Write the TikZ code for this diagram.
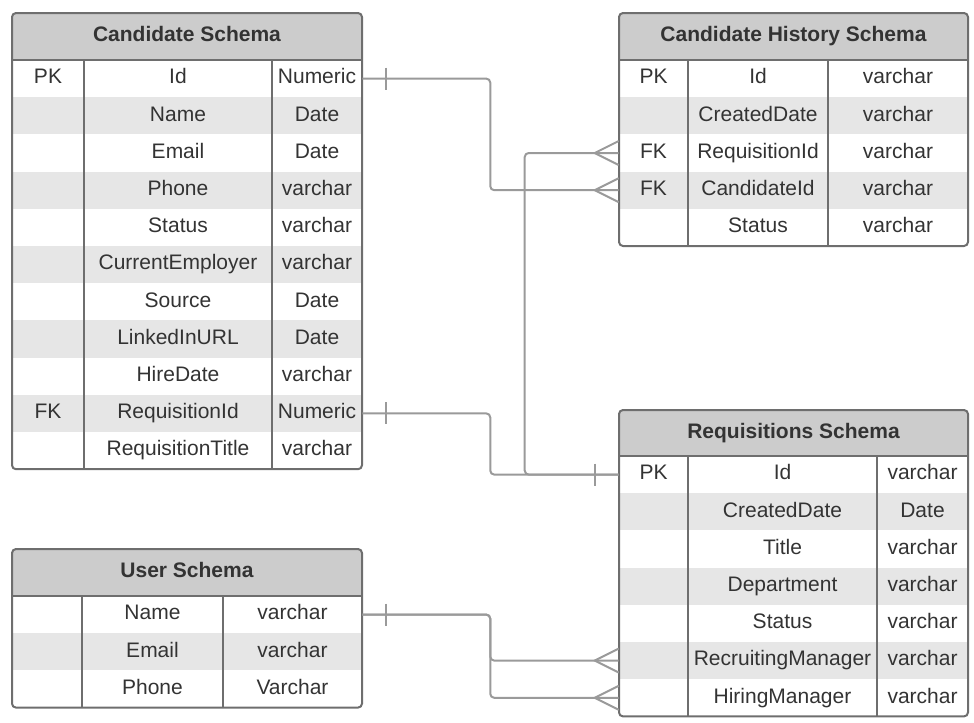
\documentclass[tikz,border=0pt]{standalone}
\usepackage{fontspec}
\setmainfont{Liberation Sans}
\definecolor{txt}{HTML}{333333}
\definecolor{hdr}{HTML}{CCCCCC}
\definecolor{stripe}{HTML}{E6E6E6}
\definecolor{tblline}{HTML}{6E6E6E}
\definecolor{relline}{HTML}{9A9A9A}

\begin{document}
\begin{tikzpicture}[x=0.75pt,y=-0.75pt,
  every node/.style={text=txt,font=\fontsize{15.75}{18}\selectfont},
  cell/.style={inner sep=0pt,minimum height=27.9pt,text height=11pt,text depth=3pt},
  band/.style={fill=stripe},
  head/.style={inner sep=0pt,fill=hdr,text height=11pt,text depth=3pt,font=\bfseries\fontsize{15.75}{18}\selectfont},
  ck/.style={cell,minimum width=54pt},ct/.style={cell,minimum width=67.5pt},cn/.style={cell,minimum width=141pt},
  hk/.style={cell,minimum width=51.75pt},hn/.style={cell,minimum width=105pt},ht/.style={cell,minimum width=105pt},
  rk/.style={cell,minimum width=51.75pt},rn/.style={cell,minimum width=141.75pt},rt/.style={cell,minimum width=68.25pt},
  uk/.style={cell,minimum width=52.5pt},un/.style={cell,minimum width=105.75pt},ut/.style={cell,minimum width=104.25pt},
  tbl/.style={draw=tblline,line width=1.5pt},
  rel/.style={draw=relline,line width=1.5pt}]
\useasboundingbox (0,0) rectangle (974,722);

\begin{scope}
\clip[rounded corners=3pt] (12,13) rectangle (362,469.2);
\node[head,minimum width=262.5pt,minimum height=35.25pt] (chead) at (187,36.5) {Candidate Schema};
\node[ck] (c1k) at (48,78.6) {PK}; \node[cn] (c1n) at (178,78.6) {Id}; \node[ct] (c1t) at (317,78.6) {Numeric};
\node[ck,band] (c2k) at (48,115.8) {}; \node[cn,band] (c2n) at (178,115.8) {Name}; \node[ct,band] (c2t) at (317,115.8) {Date};
\node[ck] (c3k) at (48,153) {}; \node[cn] (c3n) at (178,153) {Email}; \node[ct] (c3t) at (317,153) {Date};
\node[ck,band] (c4k) at (48,190.2) {}; \node[cn,band] (c4n) at (178,190.2) {Phone}; \node[ct,band] (c4t) at (317,190.2) {varchar};
\node[ck] (c5k) at (48,227.4) {}; \node[cn] (c5n) at (178,227.4) {Status}; \node[ct] (c5t) at (317,227.4) {varchar};
\node[ck,band] (c6k) at (48,264.6) {}; \node[cn,band] (c6n) at (178,264.6) {CurrentEmployer}; \node[ct,band] (c6t) at (317,264.6) {varchar};
\node[ck] (c7k) at (48,301.8) {}; \node[cn] (c7n) at (178,301.8) {Source}; \node[ct] (c7t) at (317,301.8) {Date};
\node[ck,band] (c8k) at (48,339) {}; \node[cn,band] (c8n) at (178,339) {LinkedInURL}; \node[ct,band] (c8t) at (317,339) {Date};
\node[ck] (c9k) at (48,376.2) {}; \node[cn] (c9n) at (178,376.2) {HireDate}; \node[ct] (c9t) at (317,376.2) {varchar};
\node[ck,band] (c10k) at (48,413.4) {FK}; \node[cn,band] (c10n) at (178,413.4) {RequisitionId}; \node[ct,band] (c10t) at (317,413.4) {Numeric};
\node[ck] (c11k) at (48,450.6) {}; \node[cn] (c11n) at (178,450.6) {RequisitionTitle}; \node[ct] (c11t) at (317,450.6) {varchar};
\end{scope}
\draw[tbl] (12,60) -- (362,60) (84,60) -- (84,469.2) (272,60) -- (272,469.2);
\draw[tbl,rounded corners=3pt] (12,13) rectangle (362,469.2);

\begin{scope}
\clip[rounded corners=3pt] (619,13) rectangle (968,246);
\node[head,minimum width=261.75pt,minimum height=35.25pt] (hhead) at (793.5,36.5) {Candidate History Schema};
\node[hk] (h1k) at (653.5,78.6) {PK}; \node[hn] (h1n) at (758,78.6) {Id}; \node[ht] (h1t) at (898,78.6) {varchar};
\node[hk,band] (h2k) at (653.5,115.8) {}; \node[hn,band] (h2n) at (758,115.8) {CreatedDate}; \node[ht,band] (h2t) at (898,115.8) {varchar};
\node[hk] (h3k) at (653.5,153) {FK}; \node[hn] (h3n) at (758,153) {RequisitionId}; \node[ht] (h3t) at (898,153) {varchar};
\node[hk,band] (h4k) at (653.5,190.2) {FK}; \node[hn,band] (h4n) at (758,190.2) {CandidateId}; \node[ht,band] (h4t) at (898,190.2) {varchar};
\node[hk] (h5k) at (653.5,227.4) {}; \node[hn] (h5n) at (758,227.4) {Status}; \node[ht] (h5t) at (898,227.4) {varchar};
\end{scope}
\draw[tbl] (619,60) -- (968,60) (688,60) -- (688,246) (828,60) -- (828,246);
\draw[tbl,rounded corners=3pt] (619,13) rectangle (968,246);

\begin{scope}
\clip[rounded corners=3pt] (619,410) rectangle (968,716.4);
\node[head,minimum width=261.75pt,minimum height=34.5pt] (rhead) at (793.5,433) {Requisitions Schema};
\node[rk] (r1k) at (653.5,474.6) {PK}; \node[rn] (r1n) at (782.5,474.6) {Id}; \node[rt] (r1t) at (922.5,474.6) {varchar};
\node[rk,band] (r2k) at (653.5,511.8) {}; \node[rn,band] (r2n) at (782.5,511.8) {CreatedDate}; \node[rt,band] (r2t) at (922.5,511.8) {Date};
\node[rk] (r3k) at (653.5,549) {}; \node[rn] (r3n) at (782.5,549) {Title}; \node[rt] (r3t) at (922.5,549) {varchar};
\node[rk,band] (r4k) at (653.5,586.2) {}; \node[rn,band] (r4n) at (782.5,586.2) {Department}; \node[rt,band] (r4t) at (922.5,586.2) {varchar};
\node[rk] (r5k) at (653.5,623.4) {}; \node[rn] (r5n) at (782.5,623.4) {Status}; \node[rt] (r5t) at (922.5,623.4) {varchar};
\node[rk,band] (r6k) at (653.5,660.6) {}; \node[rn,band] (r6n) at (782.5,660.6) {RecruitingManager}; \node[rt,band] (r6t) at (922.5,660.6) {varchar};
\node[rk] (r7k) at (653.5,697.8) {}; \node[rn] (r7n) at (782.5,697.8) {HiringManager}; \node[rt] (r7t) at (922.5,697.8) {varchar};
\end{scope}
\draw[tbl] (619,456) -- (968,456) (688,456) -- (688,716.4) (877,456) -- (877,716.4);
\draw[tbl,rounded corners=3pt] (619,410) rectangle (968,716.4);

\begin{scope}
\clip[rounded corners=3pt] (12,549) rectangle (362,707.6);
\node[head,minimum width=262.5pt,minimum height=35.25pt] (uhead) at (187,572.5) {User Schema};
\node[uk] (u1k) at (47,614.6) {}; \node[un] (u1n) at (152.5,614.6) {Name}; \node[ut] (u1t) at (292.5,614.6) {varchar};
\node[uk,band] (u2k) at (47,651.8) {}; \node[un,band] (u2n) at (152.5,651.8) {Email}; \node[ut,band] (u2t) at (292.5,651.8) {varchar};
\node[uk] (u3k) at (47,689) {}; \node[un] (u3n) at (152.5,689) {Phone}; \node[ut] (u3t) at (292.5,689) {Varchar};
\end{scope}
\draw[tbl] (12,596) -- (362,596) (82,596) -- (82,707.6) (223,596) -- (223,707.6);
\draw[tbl,rounded corners=3pt] (12,549) rectangle (362,707.6);

\draw[rel,rounded corners=3pt] (c1t.east) -- ++(128,0) |- (h4k.west);
\draw[rel] (c1t.east) ++(24,-11) -- ++(0,22);
\draw[rel] ([yshift=9pt]h4k.west) -- ++(-24,12) -- ([yshift=-9pt]h4k.west);

\draw[rel,rounded corners=3pt] (c10t.east) -- ++(128,0) |- (r1k.west);
\draw[rel] (c10t.east) ++(24,-11) -- ++(0,22);
\draw[rel] (r1k.west) ++(-24,-11) -- ++(0,22);

\draw[rel,rounded corners=3pt] (r1k.west) -- ++(-94,0) |- (h3k.west);
\draw[rel] ([yshift=9pt]h3k.west) -- ++(-24,12) -- ([yshift=-9pt]h3k.west);

\draw[rel,rounded corners=3pt] (u1t.east) -- ++(128,0) |- (r6k.west);
\draw[rel,rounded corners=3pt] (u1t.east) -- ++(128,0) |- (r7k.west);
\draw[rel] (u1t.east) ++(24,-11) -- ++(0,22);
\draw[rel] ([yshift=9pt]r6k.west) -- ++(-24,12) -- ([yshift=-9pt]r6k.west);
\draw[rel] ([yshift=9pt]r7k.west) -- ++(-24,12) -- ([yshift=-9pt]r7k.west);
\end{tikzpicture}
\end{document}
